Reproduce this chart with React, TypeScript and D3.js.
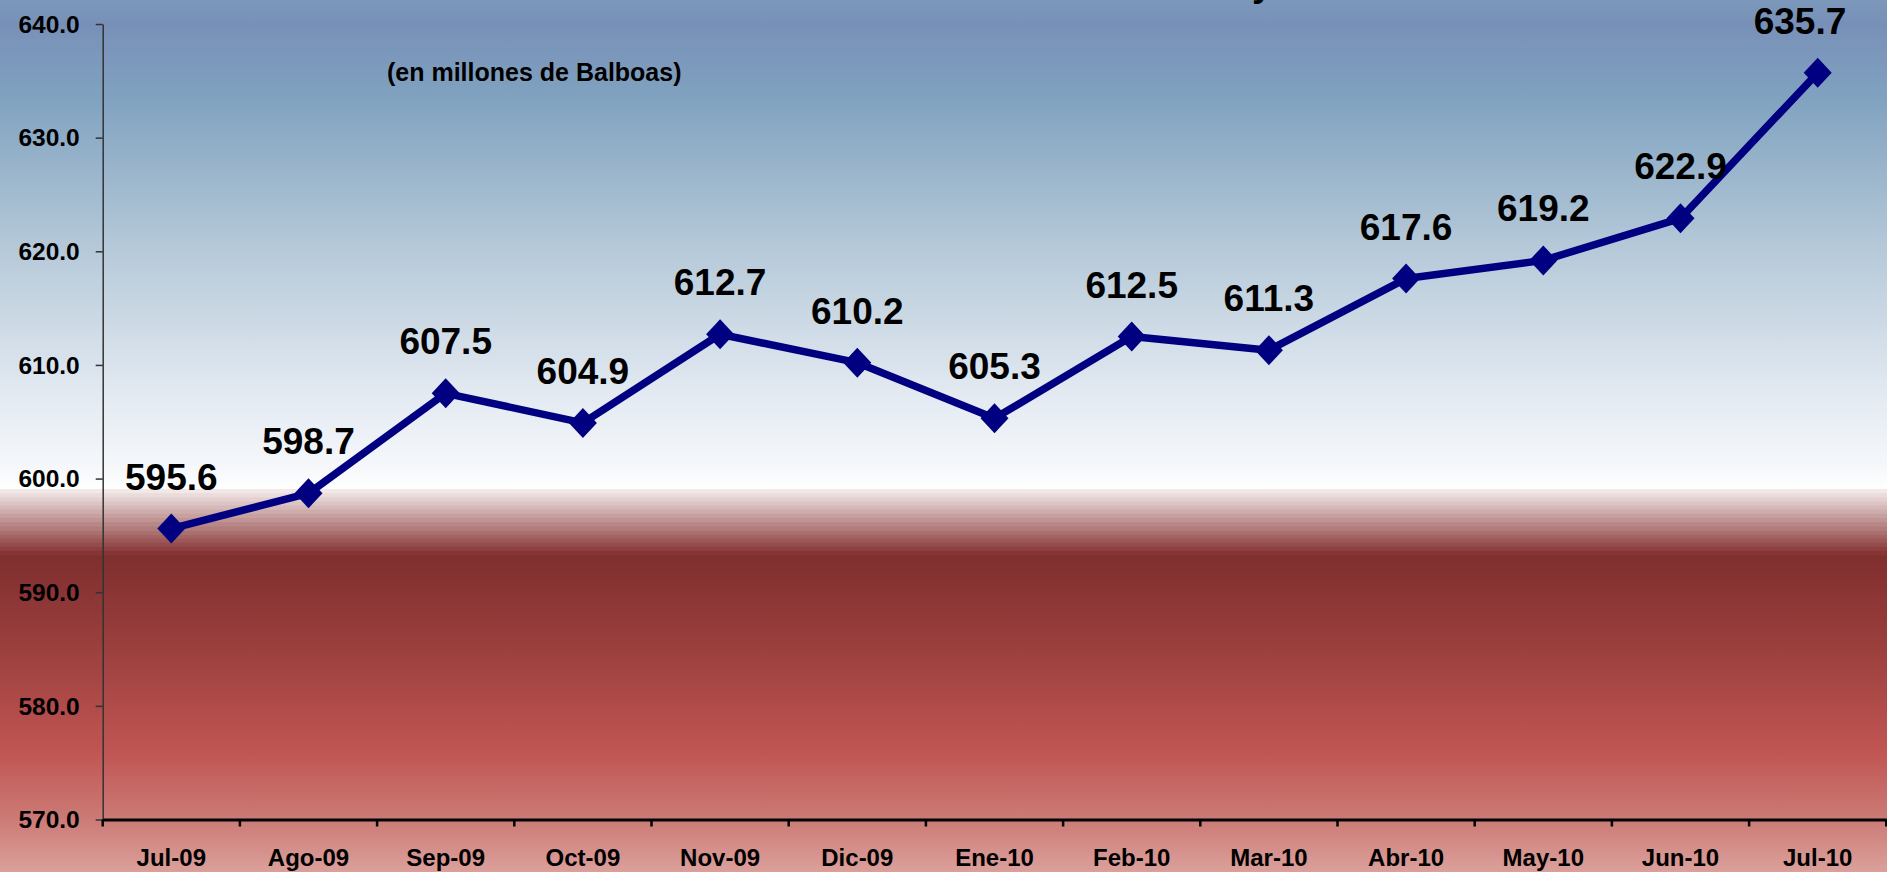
import * as d3 from 'd3';
import { useEffect, useRef } from 'react';

const months = [
  'Jul-09', 'Ago-09', 'Sep-09', 'Oct-09', 'Nov-09', 'Dic-09', 'Ene-10',
  'Feb-10', 'Mar-10', 'Abr-10', 'May-10', 'Jun-10', 'Jul-10',
];
const values = [
  595.6, 598.7, 607.5, 604.9, 612.7, 610.2, 605.3, 612.5, 611.3, 617.6, 619.2, 622.9, 635.7,
];
const yTicks = [570, 580, 590, 600, 610, 620, 630, 640];
const subtitle = '(en millones de Balboas)';

const FONT = '"Liberation Sans", Arial, Helvetica, sans-serif';

const App = () => {
  const ref = useRef<SVGSVGElement>(null);
  const width = 1887;
  const height = 872;

  useEffect(() => {
    const svg = d3.select(ref.current);
    svg.selectAll('*').remove();

    const x = d3.scaleBand().domain(months).range([102.7, 1886.3]);
    const y = d3.scaleLinear().domain([570, 640]).range([819.5, 24]);

    // background
    const defs = svg.append('defs');
    const blue = defs
      .append('linearGradient')
      .attr('id', 'bgBlue')
      .attr('x1', 0).attr('y1', 0).attr('x2', 0).attr('y2', 1);
    [
      [0, '#7b98ba'],
      [0.05, '#7890b8'],
      [0.2, '#80a2c0'],
      [0.5, '#b4c8d8'],
      [0.8, '#e2e9f1'],
      [0.96, '#f6f8fb'],
      [1, '#ffffff'],
    ].forEach(([o, c]) => blue.append('stop').attr('offset', o).attr('stop-color', c));

    const red = defs
      .append('linearGradient')
      .attr('id', 'bgRed')
      .attr('x1', 0).attr('y1', 0).attr('x2', 0).attr('y2', 1);
    [
      [0, '#7f2e2e'],
      [0.3, '#9c403e'],
      [0.62, '#c05553'],
      [0.83, '#cc7a75'],
      [1, '#dba09b'],
    ].forEach(([o, c]) => red.append('stop').attr('offset', o).attr('stop-color', c));

    svg.append('rect').attr('width', width).attr('height', 489).attr('fill', 'url(#bgBlue)');
    svg.append('rect').attr('y', 555).attr('width', width).attr('height', height - 555).attr('fill', 'url(#bgRed)');

    const nBands = 16;
    const bandH = (555 - 489) / nBands;
    const bandColor = d3.interpolateRgb('#f2e8e8', '#863434');
    svg
      .append('g')
      .selectAll('rect')
      .data(d3.range(nBands))
      .enter()
      .append('rect')
      .attr('x', 0)
      .attr('y', (i) => 489 + i * bandH)
      .attr('width', width)
      .attr('height', bandH + 0.5)
      .attr('fill', (i) => bandColor(i / (nBands - 1)));

    // title fragment (cut off by top edge)
    svg
      .append('text')
      .attr('x', 1252)
      .attr('y', -4)
      .attr('font-family', FONT)
      .attr('font-weight', 'bold')
      .attr('font-size', 37)
      .attr('fill', '#000')
      .text('y');

    // subtitle
    svg
      .append('text')
      .attr('x', 387)
      .attr('y', 81)
      .attr('font-family', FONT)
      .attr('font-weight', 'bold')
      .attr('font-size', 25)
      .attr('fill', '#000')
      .text(subtitle);

    // y axis
    const yAxis = svg
      .append('g')
      .attr('transform', 'translate(102.7,0)')
      .call(d3.axisLeft(y).tickValues(yTicks).tickSize(7).tickSizeOuter(0).tickPadding(16).tickFormat(d3.format('.1f')));
    yAxis.select('.domain').attr('stroke', '#333').attr('stroke-width', 1.5);
    yAxis.selectAll('.tick line').attr('stroke', '#333').attr('stroke-width', 1.5);
    yAxis
      .selectAll('.tick text')
      .attr('font-family', FONT)
      .attr('font-weight', 'bold')
      .attr('font-size', 24.5)
      .attr('fill', '#000')
      .attr('dy', '0.34em');

    // x axis
    const xAxis = svg
      .append('g')
      .attr('transform', 'translate(0,819.5)')
      .call(d3.axisBottom(x).tickSize(0).tickSizeOuter(0).tickPadding(29));
    xAxis.select('.domain').attr('stroke', '#000').attr('stroke-width', 3);
    xAxis
      .selectAll('.tick text')
      .attr('font-family', FONT)
      .attr('font-weight', 'bold')
      .attr('font-size', 24)
      .attr('fill', '#000');
    xAxis
      .append('g')
      .selectAll('line')
      .data(months.concat(['end']))
      .enter()
      .append('line')
      .attr('x1', (d, i) => (i < months.length ? x(d) : x(months[months.length - 1]) + x.bandwidth()))
      .attr('x2', (d, i) => (i < months.length ? x(d) : x(months[months.length - 1]) + x.bandwidth()))
      .attr('y1', 0)
      .attr('y2', 7)
      .attr('stroke', '#000')
      .attr('stroke-width', 2.5);

    // line
    const cx = (i) => x(months[i]) + x.bandwidth() / 2;
    const line = d3
      .line<number>()
      .x((d, i) => cx(i))
      .y((d) => y(d));
    svg
      .append('path')
      .datum(values)
      .attr('d', line)
      .attr('fill', 'none')
      .attr('stroke', '#000080')
      .attr('stroke-width', 7.5)
      .attr('stroke-linejoin', 'round');

    // markers
    svg
      .append('g')
      .selectAll('path')
      .data(values)
      .enter()
      .append('path')
      .attr('d', 'M0,-15L14,0L0,15L-14,0Z')
      .attr('transform', (d, i) => 'translate(' + cx(i) + ',' + y(d) + ')')
      .attr('fill', '#000080');

    // value labels
    svg
      .append('g')
      .selectAll('text')
      .data(values)
      .enter()
      .append('text')
      .attr('x', (d, i) => Math.min(cx(i), width - 87))
      .attr('y', (d) => y(d) - 39)
      .attr('text-anchor', 'middle')
      .attr('font-family', FONT)
      .attr('font-weight', 'bold')
      .attr('font-size', 37)
      .attr('fill', '#000')
      .text((d) => d.toFixed(1));
  }, []);

  return (
    <svg
      ref={ref}
      width={width}
      height={height}
      style={{ position: 'absolute', left: 0, top: 0, display: 'block' }}
    ></svg>
  );
};

export default App;
